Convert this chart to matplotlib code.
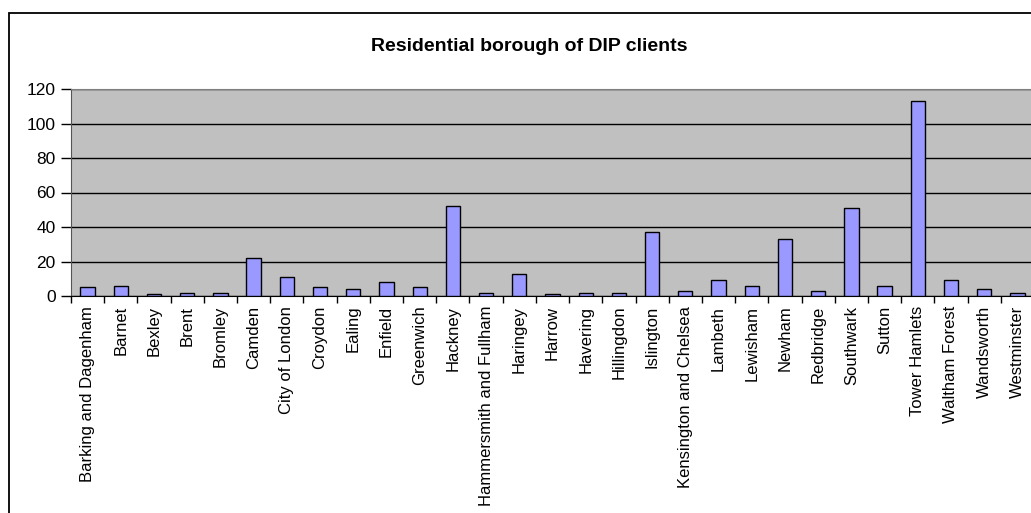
import matplotlib
matplotlib.use("Agg")
import matplotlib.pyplot as plt
import numpy as np
from matplotlib.patches import Rectangle

boroughs = [
    "Barking and Dagenham", "Barnet", "Bexley", "Brent", "Bromley", "Camden",
    "City of London", "Croydon", "Ealing", "Enfield", "Greenwich", "Hackney",
    "Hammersmith and Fullham", "Haringey", "Harrow", "Havering", "Hillingdon",
    "Islington", "Kensington and Chelsea", "Lambeth", "Lewisham", "Newham",
    "Redbridge", "Southwark", "Sutton", "Tower Hamlets", "Waltham Forest",
    "Wandsworth", "Westminster",
]
clients = [5, 6, 1, 2, 2, 22, 11, 5, 4, 8, 5, 52,
           2, 13, 1, 2, 2, 37, 3, 9, 6, 33,
           3, 51, 6, 113, 9, 4, 2]
yticks = [0, 20, 40, 60, 80, 100, 120]

plt.rcParams['font.family'] = ['Liberation Sans', 'DejaVu Sans']

fig = plt.figure(figsize=(10.31, 5.13), dpi=100)
ax = fig.add_axes([71 / 1031, 1 - 296 / 513, 963 / 1031, 207 / 513])

# outer chart frame (right and bottom edges fall outside the picture)
fig.patches.append(Rectangle((9 / 1031, -0.1), 1.1, 1.1 - 13 / 513,
                             transform=fig.transFigure, fill=False,
                             edgecolor='black', linewidth=1.3))

x = np.arange(len(boroughs))
ax.set_facecolor('#C0C0C0')
ax.bar(x, clients, width=0.43, color='#9999FF', edgecolor='black',
       linewidth=1, zorder=3)

ax.set_xlim(-0.5, len(boroughs) - 0.5)
ax.set_ylim(0, 120)
ax.set_yticks(yticks)
ax.yaxis.grid(True, color='black', linewidth=1, zorder=1)
ax.set_axisbelow(True)

ax.set_xticks(x)
ax.set_xticklabels(boroughs, rotation=90, fontsize=12)
ax.tick_params(axis='x', length=0, pad=7)
ax.set_xticks(np.arange(len(boroughs) + 1) - 0.5, minor=True)
ax.tick_params(axis='x', which='minor', length=5, width=1, direction='out')
ax.tick_params(axis='y', labelsize=12.5, length=7, width=1, direction='out', pad=4)

for side in ['top', 'right']:
    ax.spines[side].set_color('#808080')
ax.spines['left'].set_color('#555555')
ax.spines['bottom'].set_color('black')

fig.text(529 / 1031, 1 - 47 / 513, 'Residential borough of DIP clients',
         ha='center', va='center', fontsize=14, fontweight='bold')

fig.savefig('out.png', dpi=100)
